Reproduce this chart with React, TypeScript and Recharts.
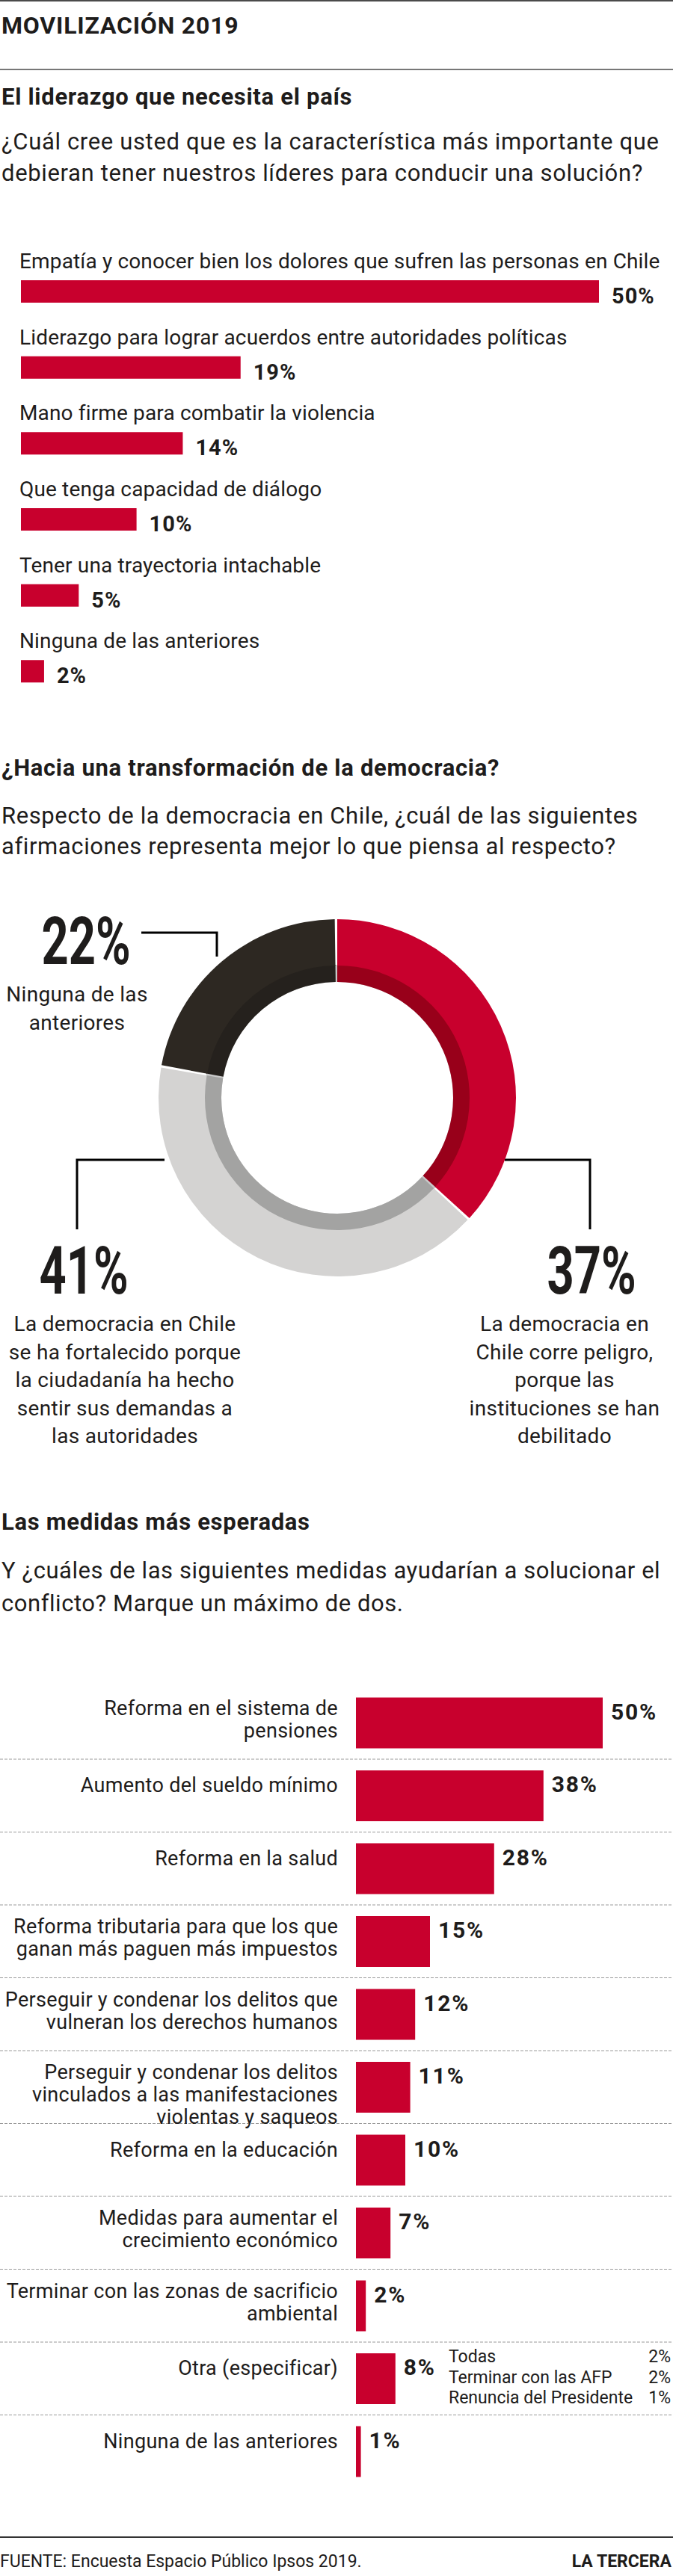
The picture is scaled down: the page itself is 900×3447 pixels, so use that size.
import { BarChart, Bar, XAxis, YAxis, LabelList, PieChart, Pie, Cell, CartesianGrid } from 'recharts'

const INK = '#1e1c1b'
const RED = '#c8002d'
const FONT = 'Roboto, "Noto Sans", sans-serif'

// El liderazgo que necesita el país
const leaderLabels = [
  'Empatía y conocer bien los dolores que sufren las personas en Chile',
  'Liderazgo para lograr acuerdos entre autoridades políticas',
  'Mano firme para combatir la violencia',
  'Que tenga capacidad de diálogo',
  'Tener una trayectoria intachable',
  'Ninguna de las anteriores',
]
const leaderValues = [50, 19, 14, 10, 5, 2]

// ¿Hacia una transformación de la democracia?
const democracyLabels = [
  'La democracia en\nChile corre peligro,\nporque las\ninstituciones se han\ndebilitado',
  'La democracia en Chile\nse ha fortalecido porque\nla ciudadanía ha hecho\nsentir sus demandas a\nlas autoridades',
  'Ninguna de las\nanteriores',
]
const democracyValues = [37, 41, 22]
const democracyOuter = ['#c8002d', '#d4d3d2', '#2d2822']
const democracyInner = ['#98001a', '#a3a3a2', '#25211d']

// Las medidas más esperadas
const measureLabels = [
  'Reforma en el sistema de\npensiones',
  'Aumento del sueldo mínimo',
  'Reforma en la salud',
  'Reforma tributaria para que los que\nganan más paguen más impuestos',
  'Perseguir y condenar los delitos que\nvulneran los derechos humanos',
  'Perseguir y condenar los delitos\nvinculados a las manifestaciones\nviolentas y saqueos',
  'Reforma en la educación',
  'Medidas para aumentar el\ncrecimiento económico',
  'Terminar con las zonas de sacrificio\nambiental',
  'Otra (especificar)',
  'Ninguna de las anteriores',
]
const measureValues = [50, 38, 28, 15, 12, 11, 10, 7, 2, 8, 1]

// desglose de "Otra (especificar)"
const otherLabels = ['Todas', 'Terminar con las AFP', 'Renuncia del Presidente']
const otherValues = [2, 2, 1]
const OTHER_INDEX = measureLabels.indexOf('Otra (especificar)')

// annotation layout for the donut (same order as democracyValues)
const donutNotes = [
  { numX: 791, numY: 1731, textX: 755, textY: 1781, lead: '675,1552 789,1552 789,1645' },
  { numX: 112, numY: 1731, textX: 167, textY: 1781, lead: '220,1552 103,1552 103,1645' },
  { numX: 115, numY: 1290, textX: 103, textY: 1340, lead: '189,1248 290,1248 290,1280' },
]

const textBase = { fontFamily: FONT, fill: INK }

function box(props: any) {
  const vb = props.viewBox ?? props
  return { x: Number(vb.x), y: Number(vb.y), width: Number(vb.width), height: Number(vb.height) }
}

function LeaderName(props: any) {
  const { x, y } = box(props)
  return (
    <text x={x - 2} y={y - 16} fontSize={28} letterSpacing={0.15} {...textBase}>
      {props.value}
    </text>
  )
}

function LeaderValue(props: any) {
  const { x, y, width, height } = box(props)
  return (
    <text x={x + width + 17} y={y + height + 1} fontSize={29} fontWeight={700} letterSpacing={1} {...textBase}>
      {props.value}%
    </text>
  )
}

function MeasureName(props: any) {
  const { x, y } = box(props)
  const lines = String(props.value).split('\n')
  const first = y + (lines.length === 1 ? 29 : 23)
  return (
    <text x={x - 24} y={first} fontSize={27} letterSpacing={0.3} textAnchor="end" {...textBase}>
      {lines.map((l, i) => (
        <tspan key={i} x={x - 24} y={first + i * 30}>
          {l}
        </tspan>
      ))}
    </text>
  )
}

function MeasureValue(props: any) {
  const { x, y, width } = box(props)
  return (
    <g>
      <text x={x + width + 11} y={y + 29} fontSize={30} fontWeight={700} letterSpacing={1.8} {...textBase}>
        {props.value}%
      </text>
      {props.index === OTHER_INDEX &&
        otherLabels.map((l, i) => (
          <g key={l}>
            <text x={600} y={y + 12 + i * 27.5} fontSize={23} {...textBase}>
              {l}
            </text>
            <text x={897} y={y + 12 + i * 27.5} fontSize={23} textAnchor="end" {...textBase}>
              {otherValues[i]}%
            </text>
          </g>
        ))}
    </g>
  )
}

function Lines({ x, y, lines, lh, size = 28, weight = 400, anchor = 'start', ls = 0 }: any) {
  return (
    <text x={x} y={y} fontSize={size} fontWeight={weight} textAnchor={anchor} letterSpacing={ls} {...textBase}>
      {lines.map((l: string, i: number) => (
        <tspan key={i} x={x} y={y + i * lh}>
          {l}
        </tspan>
      ))}
    </text>
  )
}

function Heading({ y, children }: any) {
  return (
    <text x={2} y={y} fontSize={31} fontWeight={700} letterSpacing={0.7} {...textBase}>
      {children}
    </text>
  )
}

export default function App() {
  const leaderData = leaderLabels.map((name, i) => ({ name, value: leaderValues[i] }))
  const democracyData = democracyLabels.map((name, i) => ({ name, value: democracyValues[i] }))
  const measureData = measureLabels.map((name, i) => ({ name, value: measureValues[i] }))
  const rows = measureData.length

  return (
    <div style={{ position: 'relative', width: 900, height: 3447, background: '#fff', overflow: 'hidden' }}>
      <style>{'body{margin:0}'}</style>
      <svg width={900} height={3447} style={{ position: 'absolute', left: 0, top: 0 }}>
        <rect x={0} y={0} width={900} height={2} fill="#4a4a4a" />
        <text x={2} y={45} fontSize={32} fontWeight={700} letterSpacing={0.8} {...textBase}>
          MOVILIZACIÓN 2019
        </text>
        <rect x={0} y={92} width={900} height={1.5} fill="#4a4a4a" />

        <Heading y={140}>El liderazgo que necesita el país</Heading>
        <Lines
          x={2}
          y={200}
          lh={42}
          size={31}
          ls={0.65}
          lines={[
            '¿Cuál cree usted que es la característica más importante que',
            'debieran tener nuestros líderes para conducir una solución?',
          ]}
        />

        <Heading y={1038}>¿Hacia una transformación de la democracia?</Heading>
        <Lines
          x={2}
          y={1102}
          lh={41}
          size={31}
          ls={0.6}
          lines={[
            'Respecto de la democracia en Chile, ¿cuál de las siguientes',
            'afirmaciones representa mejor lo que piensa al respecto?',
          ]}
        />

        {donutNotes.map((n, i) => (
          <g key={i}>
            <polyline points={n.lead} fill="none" stroke="#000" strokeWidth={3} />
            <text
              transform={`translate(${n.numX} ${n.numY}) scale(0.71 1)`}
              textAnchor="middle"
              fontSize={89}
              fontWeight={700}
              {...textBase}
            >
              {democracyValues[i]}%
            </text>
            <Lines
              x={n.textX}
              y={n.textY}
              lh={37.5}
              size={28}
              ls={0.3}
              anchor="middle"
              lines={democracyLabels[i].split('\n')}
            />
          </g>
        ))}

        <Heading y={2047}>Las medidas más esperadas</Heading>
        <Lines
          x={2}
          y={2112}
          lh={44}
          size={31}
          ls={0.55}
          lines={['Y ¿cuáles de las siguientes medidas ayudarían a solucionar el', 'conflicto? Marque un máximo de dos.']}
        />

        <rect x={0} y={3394} width={900} height={2} fill="#333" />
        <text x={0} y={3435} fontSize={23} {...textBase}>
          FUENTE: Encuesta Espacio Público Ipsos 2019.
        </text>
        <text x={898} y={3435} fontSize={23} fontWeight={700} textAnchor="end" {...textBase}>
          LA TERCERA
        </text>
      </svg>

      <div style={{ position: 'absolute', left: 0, top: 300 }}>
        <BarChart width={900} height={649} layout="vertical" data={leaderData} margin={{ top: 39, right: 99, bottom: 0, left: 28 }}>
          <XAxis type="number" domain={[0, 50]} hide />
          <YAxis type="category" dataKey="name" hide width={0} />
          <Bar dataKey="value" fill={RED} barSize={30} isAnimationActive={false}>
            <LabelList dataKey="name" content={LeaderName} />
            <LabelList dataKey="value" content={LeaderValue} />
          </Bar>
        </BarChart>
      </div>

      <div style={{ position: 'absolute', left: 0, top: 1200 }}>
        <PieChart width={900} height={520}>
          <Pie
            data={[{ value: 1 }]}
            dataKey="value"
            cx={446}
            cy={264}
            innerRadius={155}
            outerRadius={178}
            fill="#c9c9c9"
            stroke="none"
            isAnimationActive={false}
          />
          <Pie
            data={democracyData}
            dataKey="value"
            cx={446}
            cy={264}
            innerRadius={155}
            outerRadius={178}
            startAngle={90}
            endAngle={-270}
            paddingAngle={0.8}
            stroke="none"
            isAnimationActive={false}
          >
            {democracyData.map((d, i) => (
              <Cell key={d.name} fill={democracyInner[i]} />
            ))}
          </Pie>
          <Pie
            data={democracyData}
            dataKey="value"
            cx={446}
            cy={264}
            innerRadius={177}
            outerRadius={239}
            startAngle={90}
            endAngle={-270}
            paddingAngle={0.8}
            stroke="none"
            isAnimationActive={false}
          >
            {democracyData.map((d, i) => (
              <Cell key={d.name} fill={democracyOuter[i]} />
            ))}
          </Pie>
        </PieChart>
      </div>

      <div style={{ position: 'absolute', left: 0, top: 2230 }}>
        <BarChart width={900} height={1099} layout="vertical" data={measureData} margin={{ top: 26.5, right: 94, bottom: 0, left: 476 }}>
          <CartesianGrid
            x={0}
            width={900}
            vertical={false}
            stroke="#9a9a9a"
            strokeDasharray="4 2"
            horizontalCoordinatesGenerator={({ offset }: any) =>
              Array.from({ length: rows - 1 }, (_, i) => offset.top + ((i + 1) * offset.height) / rows)
            }
          />
          <XAxis type="number" domain={[0, 50]} hide />
          <YAxis type="category" dataKey="name" hide width={0} />
          <Bar dataKey="value" fill={RED} barSize={68} isAnimationActive={false}>
            <LabelList dataKey="name" content={MeasureName} />
            <LabelList dataKey="value" content={MeasureValue} />
          </Bar>
        </BarChart>
      </div>
    </div>
  )
}
